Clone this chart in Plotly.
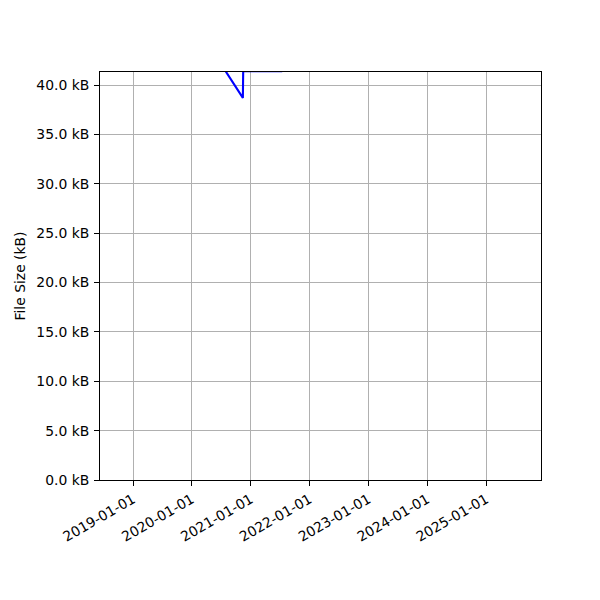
import plotly.graph_objects as go

dates = ["2018-10-11", "2020-07-01", "2020-11-13", "2020-11-15", "2021-07-09", "2021-08-01", "2025-08-06"]
sizes_kb = [45.0, 42.1, 38.7, 41.41, 41.41, 50.0, 55.0]

tick_dates = ["2019-01-01", "2020-01-01", "2021-01-01", "2022-01-01", "2023-01-01", "2024-01-01", "2025-01-01"]
y_ticks = [0, 5, 10, 15, 20, 25, 30, 35, 40]

fig = go.Figure()
fig.add_trace(go.Scatter(x=dates, y=sizes_kb, mode="lines",
                         line=dict(color="blue", width=2.1), showlegend=False))

font = dict(family="DejaVu Sans", size=13.9, color="black")
fig.update_layout(
    width=600, height=600,
    margin=dict(l=83, r=67, t=64, b=128),
    paper_bgcolor="white", plot_bgcolor="white",
    font=font,
    xaxis=dict(range=["2018-06-10", "2025-12-08"], tickvals=tick_dates, ticktext=tick_dates,
               tickangle=-30, showgrid=True, gridcolor="#b0b0b0", gridwidth=1,
               showline=True, linecolor="black", linewidth=1, mirror=True,
               ticks="outside", ticklen=5, tickcolor="black", zeroline=False),
    yaxis=dict(range=[0, 41.32], tickvals=y_ticks, ticktext=[f"{v:.1f} kB" for v in y_ticks],
               showgrid=True, gridcolor="#b0b0b0", gridwidth=1,
               showline=True, linecolor="black", linewidth=1, mirror=True,
               ticks="outside", ticklen=5, tickcolor="black", zeroline=False,
               ticklabelstandoff=2,
               title=dict(text="File Size (kB)", font=font, standoff=7)),
)
fig.write_html("out.html")
